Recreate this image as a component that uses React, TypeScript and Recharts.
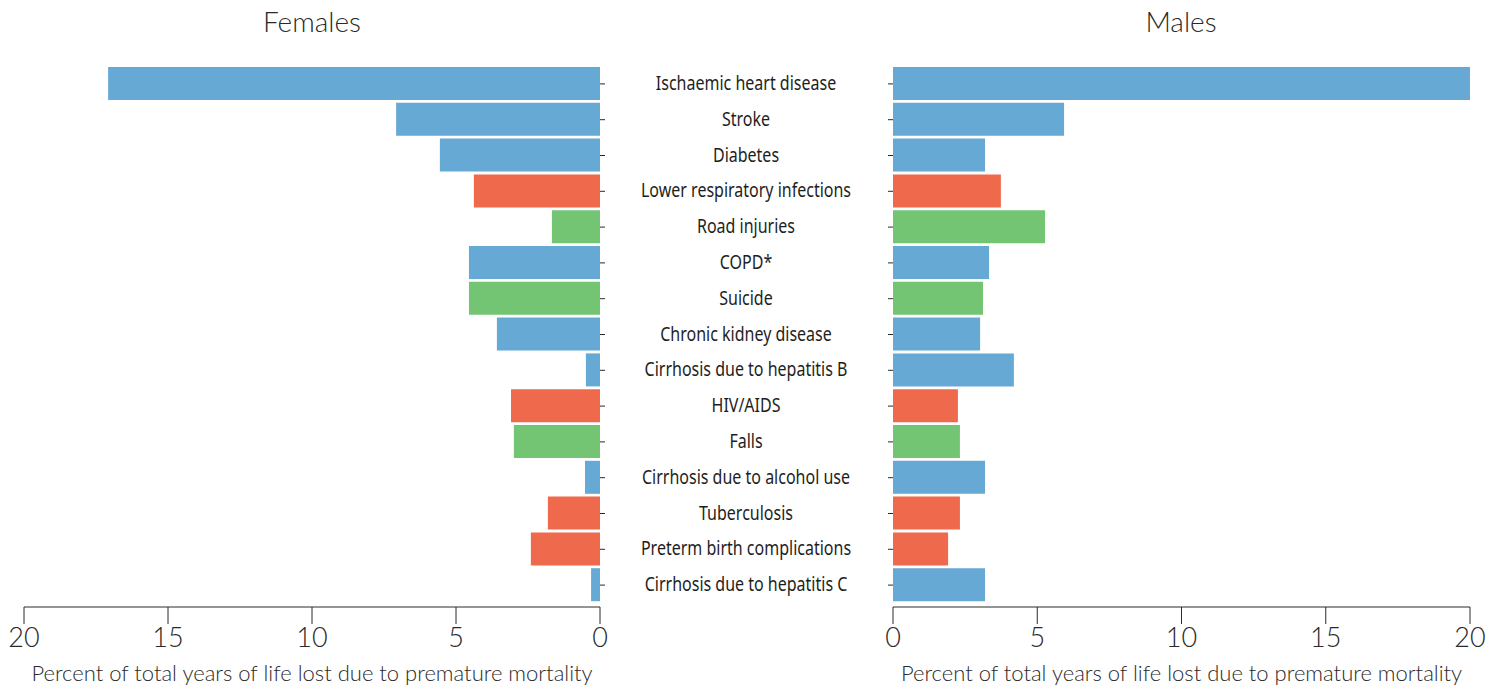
import { BarChart, Bar, XAxis, YAxis, Cell, Label } from "recharts";

const causes = [
  "Ischaemic heart disease",
  "Stroke",
  "Diabetes",
  "Lower respiratory infections",
  "Road injuries",
  "COPD*",
  "Suicide",
  "Chronic kidney disease",
  "Cirrhosis due to hepatitis B",
  "HIV/AIDS",
  "Falls",
  "Cirrhosis due to alcohol use",
  "Tuberculosis",
  "Preterm birth complications",
  "Cirrhosis due to hepatitis C",
];

// ncd = non-communicable, com = communicable, inj = injuries
const groups = [
  "ncd", "ncd", "ncd", "com", "inj", "ncd", "inj", "ncd",
  "ncd", "com", "inj", "ncd", "com", "com", "ncd",
];

const females = [17.08, 7.08, 5.56, 4.38, 1.67, 4.55, 4.55, 3.58, 0.49, 3.09, 2.99, 0.52, 1.81, 2.4, 0.31];
const males = [20.1, 5.93, 3.19, 3.74, 5.27, 3.33, 3.12, 3.02, 4.19, 2.25, 2.32, 3.19, 2.32, 1.91, 3.19];

const xTicks = [0, 5, 10, 15, 20];

const groupColors: Record<string, string> = {
  ncd: "#67a9d5",
  com: "#ef6a4c",
  inj: "#73c473",
};

const femaleData = causes.map((name, i) => ({ name, value: females[i], group: groups[i] }));
const maleData = causes.map((name, i) => ({ name, value: males[i], group: groups[i] }));

const ink = "#2a2a2a";
const tickFont = "Lato, 'Open Sans', sans-serif";
const labelFont = "'Noto Sans', 'DejaVu Sans', sans-serif";

const CauseTick = (props: any) => {
  const { y, payload } = props;
  return (
    <text
      transform={`translate(746, ${y}) scale(0.8, 1)`}
      x={0}
      y={0}
      dy={6}
      textAnchor="middle"
      fontFamily={labelFont}
      fontSize={20}
      fontWeight={400}
      fill="#1e1e1e"
    >
      {payload.value}
    </text>
  );
};

const NoTick = () => <g />;

const axisTitle = "Percent of total years of life lost due to premature mortality";

const titleStyle = {
  position: "absolute" as const,
  width: 200,
  top: 4,
  textAlign: "center" as const,
  fontFamily: tickFont,
  fontWeight: 300,
  fontSize: 28,
  color: ink,
};

export default function App() {
  return (
    <div style={{ position: "absolute", left: 0, top: 0, width: 1503, height: 689, background: "#fff" }}>
      <div style={{ ...titleStyle, left: 212 }}>Females</div>
      <div style={{ ...titleStyle, left: 1081 }}>Males</div>

      <div style={{ position: "absolute", left: 0, top: 0 }}>
        <BarChart
          width={880}
          height={689}
          data={femaleData}
          layout="vertical"
          margin={{ top: 66, right: 0, left: 24, bottom: 0 }}
          barSize={33}
        >
          <XAxis
            type="number"
            domain={[0, 20]}
            ticks={xTicks}
            reversed
            height={82}
            tickSize={17}
            tickMargin={4}
            axisLine={{ stroke: ink }}
            tickLine={{ stroke: ink }}
            tick={{ fill: ink, fontSize: 27, fontFamily: tickFont, fontWeight: 300 }}
          >
            <Label
              value={axisTitle}
              position="insideBottom"
              offset={8}
              fill={ink}
              fontSize={22}
              fontWeight={300}
              fontFamily={tickFont}
            />
          </XAxis>
          <YAxis
            type="category"
            dataKey="name"
            orientation="right"
            width={280}
            padding={{ top: 0, bottom: 4 }}
            axisLine={false}
            tickSize={5}
            tickLine={{ stroke: ink }}
            tick={<CauseTick />}
            interval={0}
          />
          <Bar dataKey="value" isAnimationActive={false}>
            {femaleData.map((d, i) => (
              <Cell key={`f-${i}`} fill={groupColors[d.group]} />
            ))}
          </Bar>
        </BarChart>
      </div>

      <div style={{ position: "absolute", left: 880, top: 0 }}>
        <BarChart
          width={623}
          height={689}
          data={maleData}
          layout="vertical"
          margin={{ top: 66, right: 33, left: 0, bottom: 0 }}
          barSize={33}
        >
          <XAxis
            type="number"
            domain={[0, 20]}
            ticks={xTicks}
            allowDataOverflow
            height={82}
            tickSize={17}
            tickMargin={4}
            axisLine={{ stroke: ink }}
            tickLine={{ stroke: ink }}
            tick={{ fill: ink, fontSize: 27, fontFamily: tickFont, fontWeight: 300 }}
          >
            <Label
              value={axisTitle}
              position="insideBottom"
              offset={8}
              fill={ink}
              fontSize={22}
              fontWeight={300}
              fontFamily={tickFont}
            />
          </XAxis>
          <YAxis
            type="category"
            dataKey="name"
            width={13}
            padding={{ top: 0, bottom: 4 }}
            axisLine={false}
            tickSize={5}
            tickLine={{ stroke: ink }}
            tick={<NoTick />}
            interval={0}
          />
          <Bar dataKey="value" isAnimationActive={false}>
            {maleData.map((d, i) => (
              <Cell key={`m-${i}`} fill={groupColors[d.group]} />
            ))}
          </Bar>
        </BarChart>
      </div>
    </div>
  );
}
